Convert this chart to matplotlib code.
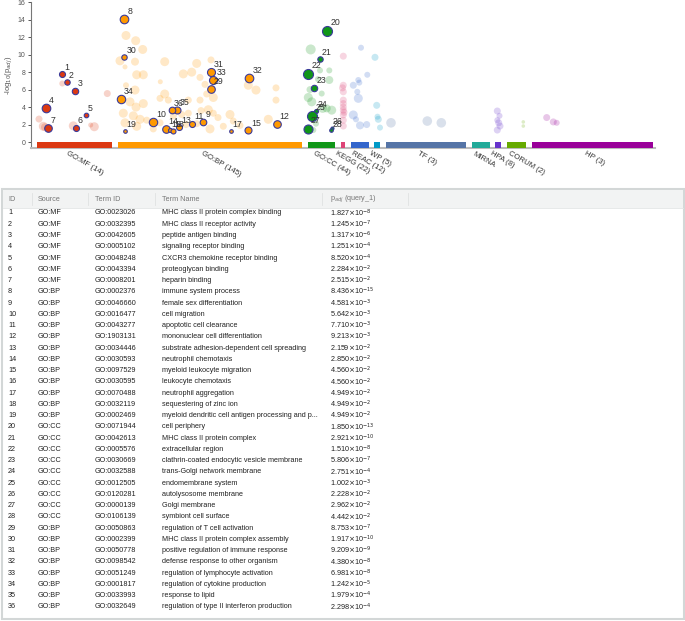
import numpy as np
import matplotlib.pyplot as plt
from matplotlib.patches import Rectangle

plt.rcParams['font.family'] = ['Liberation Sans', 'DejaVu Sans']

# sources along the x axis (pixel-like x units)
sources = ['GO:MF', 'GO:BP', 'GO:CC', 'KEGG', 'REAC', 'WP', 'TF', 'MIRNA', 'HPA', 'CORUM', 'HP']
source_labels = ['GO:MF (14)', 'GO:BP (145)', 'GO:CC (44)', 'KEGG (22)', 'REAC (12)', 'WP (5)',
                 'TF (3)', 'MIRNA', 'HPA (8)', 'CORUM (2)', 'HP (3)']
source_start = [36.7, 118.3, 308.3, 341.0, 350.7, 374.3, 385.7, 472.0, 495.3, 507.0, 532.3]
source_end = [112.3, 301.7, 335.0, 345.0, 368.7, 380.0, 465.7, 489.7, 501.0, 526.3, 653.3]
source_colors = ['#dc3912', '#ff9900', '#109618', '#dd4477', '#3366cc', '#0099c6',
                 '#5574a6', '#22aa99', '#6633cc', '#66aa00', '#990099']

# highlighted terms
term_ids = list(range(1, 37))
term_source = ['GO:MF'] * 7 + ['GO:BP'] * 12 + ['GO:CC'] * 9 + ['GO:BP'] * 8
term_go = ['GO:0023026', 'GO:0032395', 'GO:0042605', 'GO:0005102', 'GO:0048248', 'GO:0043394',
           'GO:0008201', 'GO:0002376', 'GO:0046660', 'GO:0016477', 'GO:0043277', 'GO:1903131',
           'GO:0034446', 'GO:0030593', 'GO:0097529', 'GO:0030595', 'GO:0070488', 'GO:0032119',
           'GO:0002469', 'GO:0071944', 'GO:0042613', 'GO:0005576', 'GO:0030669', 'GO:0032588',
           'GO:0012505', 'GO:0120281', 'GO:0000139', 'GO:0106139', 'GO:0050863', 'GO:0002399',
           'GO:0050778', 'GO:0098542', 'GO:0051249', 'GO:0001817', 'GO:0033993', 'GO:0032649']
term_name = ['MHC class II protein complex binding', 'MHC class II receptor activity',
             'peptide antigen binding', 'signaling receptor binding',
             'CXCR3 chemokine receptor binding', 'proteoglycan binding', 'heparin binding',
             'immune system process', 'female sex differentiation', 'cell migration',
             'apoptotic cell clearance', 'mononuclear cell differentiation',
             'substrate adhesion-dependent cell spreading', 'neutrophil chemotaxis',
             'myeloid leukocyte migration', 'leukocyte chemotaxis', 'neutrophil aggregation',
             'sequestering of zinc ion', 'myeloid dendritic cell antigen processing and p...',
             'cell periphery', 'MHC class II protein complex', 'extracellular region',
             'clathrin-coated endocytic vesicle membrane', 'trans-Golgi network membrane',
             'endomembrane system', 'autolysosome membrane', 'Golgi membrane',
             'symbiont cell surface', 'regulation of T cell activation',
             'MHC class II protein complex assembly', 'positive regulation of immune response',
             'defense response to other organism', 'regulation of lymphocyte activation',
             'regulation of cytokine production', 'response to lipid',
             'regulation of type II interferon production']
p_mant = ['1.827', '1.245', '1.317', '1.251', '8.520', '2.284', '2.515', '8.436', '4.581',
          '5.642', '7.710', '9.213', '2.159', '2.850', '4.560', '4.560', '4.949', '4.949',
          '4.949', '1.850', '2.921', '1.510', '5.806', '2.751', '1.002', '2.228', '2.962',
          '4.442', '8.753', '1.917', '9.209', '4.380', '6.981', '1.242', '1.979', '2.298']
p_exp = [-8, -7, -6, -4, -4, -2, -2, -15, -3, -3, -3, -3, -2, -2, -2, -2, -2, -2,
         -2, -13, -10, -8, -7, -4, -3, -2, -2, -2, -7, -10, -9, -8, -8, -5, -4, -4]
term_x = [62.3, 66.7, 75.0, 45.7, 86.0, 75.7, 47.7, 124.0, 203.3, 153.3, 192.3, 276.7,
          179.0, 165.7, 248.3, 170.0, 231.0, 172.5, 124.5, 326.7, 320.0, 308.3, 314.3, 315.7,
          312.3, 331.7, 307.7, 331.0, 211.0, 124.3, 210.7, 249.0, 213.3, 121.0, 176.7, 171.7]
term_r = [3.0, 2.7, 3.2, 4.3, 2.3, 3.0, 3.8, 4.3, 3.3, 4.2, 3.0, 3.8, 3.0, 3.8, 3.5, 2.0,
          1.8, 2.5, 1.8, 5.0, 2.7, 5.0, 3.2, 2.0, 5.0, 1.5, 4.5, 1.8, 3.8, 2.7, 4.0, 4.3,
          4.0, 4.2, 3.5, 3.3]

# faint (not highlighted) terms: (x, -log10 p, radius px)
faint = {
    'GO:MF': [(62.3, 6.7, 3), (39, 2.63, 3.5), (43.3, 1.8, 4.5), (73.3, 1.85, 4.5),
              (90.7, 1.95, 2.5), (94.3, 1.75, 4.5), (107.3, 5.55, 3.5), (45, 1.7, 4)],
    'GO:BP': [(126, 12.2, 4.5), (135.7, 11.6, 4.5), (142.7, 10.6, 4.5), (120, 9.3, 4.5),
              (135, 9.2, 4), (125, 8.6, 2.5), (136.7, 7.7, 4.5), (143.3, 7.7, 4.5),
              (126, 6.5, 3), (135, 5.95, 4.5), (143.3, 4.4, 4.5), (136, 4.0, 4.5),
              (123.3, 3.3, 4.5), (133.3, 3.0, 4.5), (125, 2.2, 4.5), (136.7, 1.8, 4.5),
              (146.7, 2.5, 3.5), (160.3, 6.9, 2.5), (164.7, 9.2, 4.5), (160, 5.0, 3.5),
              (164.7, 5.5, 4.5), (168.3, 4.8, 3.5), (173.3, 3.0, 3.5), (183.3, 7.8, 4.5),
              (191.7, 8.0, 4.5), (196.7, 9.0, 4.5), (200, 7.4, 3.5), (188.3, 4.8, 3.5),
              (200, 4.8, 3.5), (205, 6.6, 3.5), (211, 9.4, 3.5), (206.7, 5.5, 3.5),
              (213.3, 5.1, 4.5), (208.3, 3.7, 4.5), (213.3, 3.3, 3.5), (210, 1.5, 4.5),
              (188.3, 3.3, 3.5), (181.7, 3.15, 3.5), (230, 3.15, 4.5), (233.3, 2.4, 3.5),
              (240, 1.9, 3.5), (248.3, 6.5, 4.5), (256, 5.95, 4.5), (268.3, 2.6, 4.5),
              (276, 6.2, 3.5), (276, 4.8, 3.5), (196.7, 2.1, 3.5), (153.3, 1.5, 3.5),
              (160, 2.2, 3.5), (223.3, 1.8, 3.5), (130, 4.6, 4.5), (140, 2.6, 4.5),
              (218, 2.8, 3.5), (201, 3.6, 3.5), (186, 2.0, 3.5)],
    'GO:CC': [(310.7, 10.6, 5), (320, 8.2, 3), (329.3, 8.2, 3), (329.3, 7.1, 4),
              (321.7, 5.55, 3), (308.3, 5.1, 4.5), (311.7, 4.6, 4.5), (322.7, 3.85, 4.5),
              (331.7, 3.65, 4.5), (313.3, 2.5, 3), (313.3, 1.37, 3), (316, 2.1, 3),
              (326.7, 3.85, 4), (310, 6.0, 3.5), (318, 7.2, 3)],
    'KEGG': [(343.3, 9.83, 3.5), (343.3, 6.5, 3.5), (343.3, 5.75, 3.5), (343.3, 4.8, 3.5),
             (343.3, 4.4, 3.5), (343.3, 4.0, 3.5), (343.3, 3.65, 3.5), (343.3, 3.1, 3.5),
             (343.3, 2.5, 3.5), (343.3, 1.83, 3.5), (342.5, 6.2, 3.5), (344, 3.4, 3.5)],
    'REAC': [(361, 10.8, 3), (367.3, 7.7, 3), (358.3, 7.1, 3), (353.3, 6.5, 3.5),
             (359.3, 6.8, 3), (358.3, 5.0, 4.5), (357.3, 5.75, 3), (353.3, 3.1, 4.5),
             (356, 2.6, 3), (360, 1.9, 4), (366.7, 2.0, 3.5)],
    'WP': [(375, 9.7, 3.5), (376.7, 4.2, 3.5), (378.3, 2.6, 3.5), (380, 1.65, 3),
           (377.5, 2.9, 3)],
    'TF': [(391, 2.2, 4.8), (427.3, 2.4, 4.8), (441.3, 2.2, 4.8)],
    'HPA': [(497.3, 3.55, 3.5), (497.3, 2.5, 3), (500, 1.83, 3.5), (497.3, 1.37, 3.5),
            (498.7, 2.2, 3.5), (499.5, 3.0, 3)],
    'CORUM': [(523.3, 2.3, 1.8), (523.3, 1.83, 1.8)],
    'HP': [(546.7, 2.8, 3.5), (553.3, 2.3, 3.5), (556.7, 2.2, 3)],
}

W, H = 685, 621
fig = plt.figure(figsize=(W / 100, H / 100), dpi=100)

# ---------------- Manhattan plot ----------------
ax = fig.add_axes([31 / W, 1 - 148.3 / H, (655 - 31) / W, 146 / H])
ax.set_xlim(31, 655)
ax.set_ylim(-0.72, 16)

color_of = dict(zip(sources, source_colors))
px2s = lambda r: (2 * r * 0.72) ** 2  # radius in px -> scatter size

for src, pts in faint.items():
    pts = np.array(pts)
    ax.scatter(pts[:, 0], pts[:, 1], s=px2s(pts[:, 2]), color=color_of[src],
               alpha=0.22, linewidths=0, zorder=2)

p_vals = np.array([float(m) * 10.0 ** e for m, e in zip(p_mant, p_exp)])
term_y = -np.log10(p_vals)
for i, tid in enumerate(term_ids):
    ax.scatter(term_x[i], term_y[i], s=px2s(term_r[i]), color=color_of[term_source[i]],
               edgecolors='#3a3a9a', linewidths=0.8, zorder=4)
    off = term_r[i] * 0.72 * 0.75
    ax.annotate(str(tid), (term_x[i], term_y[i]), xytext=(off, off), textcoords='offset points',
                fontsize=6.3, color='#333333', ha='left', va='bottom', zorder=5)

ax.bar(source_start, 0.69, width=np.array(source_end) - np.array(source_start),
       bottom=-0.69, align='edge', color=source_colors, linewidth=0, zorder=3)

for s, e, lab in zip(source_start, source_end, source_labels):
    ax.text((s + e) / 2 - 6, -0.95, lab, rotation=-30, rotation_mode='anchor',
            ha='left', va='top', fontsize=5.6, color='#333333', clip_on=False)

ax.set_yticks(range(0, 17, 2))
ax.tick_params(axis='y', labelsize=5, colors='#555555', length=2.5, width=0.7, pad=1.5)
ax.set_xticks([])
for side in ['top', 'right']:
    ax.spines[side].set_visible(False)
ax.spines['left'].set_color('#777777')
ax.spines['left'].set_linewidth(0.8)
ax.spines['bottom'].set_color('#bbbbbb')
ax.spines['bottom'].set_linewidth(1.5)
ax.set_ylabel(r'-log$_{10}$(p$_{adj}$)', fontsize=5.5, color='#555555', labelpad=2)

# ---------------- results table ----------------
tx = fig.add_axes([0, 0, 1, 1])
tx.set_xlim(0, W)
tx.set_ylim(H, 0)
tx.axis('off')

top, bottom = 189, 619
tx.add_patch(Rectangle((2, top), 682, bottom - top, facecolor='white',
                       edgecolor='#d3d7d7', linewidth=1.5))
tx.add_patch(Rectangle((2.8, top + 0.8), 680.4, 207.5 - top, facecolor='#f2f3f3',
                       edgecolor='none'))
tx.plot([2.8, 683.2], [207.5, 207.5], color='#e3e5e5', lw=0.6)

col_x = [8, 38, 95, 162, 330]
headers = ['ID', 'Source', 'Term ID', 'Term Name', r'p$_{adj}$ (query_1)']
for cx, hd in zip(col_x, headers):
    tx.text(cx, 199.5, hd, fontsize=5.2, color='#777777', va='center', ha='left')
for sx in [32, 88, 155, 322, 408]:
    tx.plot([sx, sx], [193, 205], color='#e0e2e2', lw=0.6)

row0, dy = 213, 11.257
for i, tid in enumerate(term_ids):
    y = row0 + i * dy
    if tid % 2 == 0:
        tx.add_patch(Rectangle((3, y - dy / 2), 404, dy, facecolor='#f4f5f5',
                               edgecolor='none', zorder=0))
    row = [str(tid), term_source[i], term_go[i], term_name[i],
           r'%s$\times$10$^{%d}$' % (p_mant[i], p_exp[i])]
    for cx, txt in zip(col_x, row):
        tx.text(cx, y, txt, fontsize=5.2, color='#222222', va='center', ha='left')

fig.savefig('out.png', dpi=100)
